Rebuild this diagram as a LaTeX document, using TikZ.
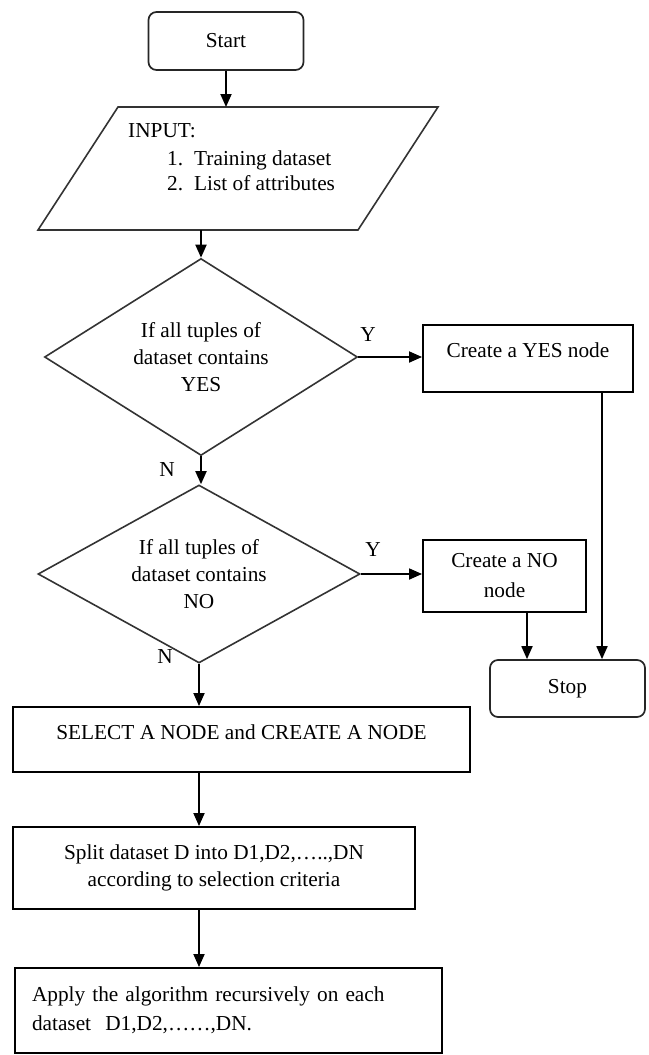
\documentclass[tikz,border=0pt]{standalone}
\usepackage{fontspec}
\setmainfont{Liberation Serif}
\usetikzlibrary{shapes.geometric,arrows.meta}
\begin{document}
\begin{tikzpicture}[x=1pt,y=-1pt,
  every node/.style={font=\fontsize{21.3}{27}\selectfont, inner sep=0pt},
  boxn/.style={draw=black, line width=1.9pt, rectangle},
  term/.style={draw=black!85, line width=1.7pt, rounded corners=8pt, rectangle},
  dec/.style={draw=black!80, line width=1.6pt, diamond, aspect=1.6, align=center},
  para/.style={draw=black!80, line width=1.6pt},
  arr/.style={line width=1.8pt, -{Triangle[length=13pt,width=11pt]}},
  lab/.style={}]
\useasboundingbox (0,0) rectangle (648,1055);

% Start
\node[term, minimum width=155pt, minimum height=58pt] (start) at (226,41) {Start};

% Input parallelogram
\coordinate (pTL) at (118,107);
\coordinate (pTR) at (438,107);
\coordinate (pBR) at (358,230);
\coordinate (pBL) at (38,230);
\draw[para] (pTL) -- (pTR) -- (pBR) -- (pBL) -- cycle;
\coordinate (pTop) at (226,107);
\coordinate (pBot) at (201,230);
\node[anchor=base west] (inp) at (128,137) {INPUT:};
\node[anchor=base west] (it1) at (167,165) {\makebox[27pt][l]{1.}Training dataset};
\node[anchor=base west] (it2) at (167,190) {\makebox[27pt][l]{2.}List of attributes};

% Decisions
\node[dec, minimum width=313pt, minimum height=197pt] (d1) at (201,357)
  {If all tuples of\\dataset contains\\YES};
\node[dec, minimum width=322pt, minimum height=178pt] (d2) at (199,574)
  {If all tuples of\\dataset contains\\NO};

% Right side boxes
\node[boxn, minimum width=210pt, minimum height=67pt, text height=15pt, text depth=17.4pt] (yes) at (528,358.5) {Create a YES node};
\node[boxn, minimum width=163pt, minimum height=72pt, align=center] (no) at (504.5,576) {Create a NO\\[3pt]node};
\node[term, minimum width=155pt, minimum height=57pt] (stop) at (567.5,688.5) {Stop};

% Lower boxes
\node[boxn, minimum width=457pt, minimum height=65pt, text height=15pt, text depth=15.4pt] (sel) at (241.5,739.5) {SELECT A NODE and CREATE A NODE};
\node[boxn, minimum width=402pt, minimum height=82pt, align=center] (split) at (214,868)
  {Split dataset D into D1,D2,…..,DN\\according to selection criteria};
\node[boxn, minimum width=427pt, minimum height=85pt, text width=393pt, inner xsep=17pt, align=left,
  font=\fontsize{21.3}{29}\selectfont] (apply) at (228.5,1010.5)
  {Apply the algorithm recursively on each\\dataset\ \ D1,D2,……,DN.};

% Labels
\node[lab] (y1) at (368,335) {Y};
\node[lab] (n1) at (167,470) {N};
\node[lab] (y2) at (373,550) {Y};
\node[lab] (n2) at (165,657) {N};

% Connectors
\draw[arr] (start.south) -- (pTop);
\draw[arr] (pBot) -- (pBot |- d1.north);
\draw[arr] (d1.east) -- (d1.east -| yes.west);
\draw[arr] (d1.south) -- (d1.south |- d2.north);
\draw[arr] (d2.east) -- (d2.east -| no.west);
\path (yes.south) ++(74,0) coordinate (ys);
\draw[arr] (ys) -- (ys |- stop.north);
\path (no.south) ++(22.5,0) coordinate (ns);
\draw[arr] (ns) -- (ns |- stop.north);
\draw[arr] (d2.south) -- (d2.south |- sel.north);
\draw[arr] (d2.south |- sel.south) -- (d2.south |- split.north);
\draw[arr] (d2.south |- split.south) -- (d2.south |- apply.north);
\end{tikzpicture}
\end{document}
